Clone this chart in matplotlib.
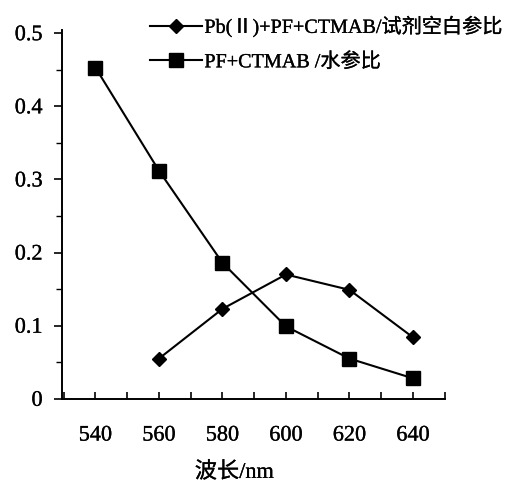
import matplotlib.pyplot as plt
import matplotlib.patheffects as pe
from matplotlib.ticker import MultipleLocator, FixedLocator

# Data
wavelength_pb = [560, 580, 600, 620, 640]
absorb_pb = [0.055, 0.123, 0.170, 0.149, 0.084]

wavelength_pf = [540, 560, 580, 600, 620, 640]
absorb_pf = [0.453, 0.312, 0.186, 0.099, 0.055, 0.028]

label_pb = "Pb(Ⅱ)+PF+CTMAB/试剂空白参比"
label_pf = "PF+CTMAB /水参比"
xticks = [540, 560, 580, 600, 620, 640]
yticks = [0, 0.1, 0.2, 0.3, 0.4, 0.5]
ytick_labels = ["0", "0.1", "0.2", "0.3", "0.4", "0.5"]

plt.rcParams["font.family"] = ["Liberation Serif", "Noto Sans CJK SC", "DejaVu Sans"]
# scanned print looks a little heavier than a plain serif
heavy = [pe.withStroke(linewidth=0.2, foreground="black")]

fig = plt.figure(figsize=(5.13, 4.84), dpi=100)
ax = fig.add_axes([0.121, 0.176, 0.746, 0.763])

ax.plot(wavelength_pb, absorb_pb, color="black", lw=1.5, marker="D",
        markersize=7.5, label=label_pb, clip_on=False)
ax.plot(wavelength_pf, absorb_pf, color="black", lw=1.5, marker="s",
        markersize=10, label=label_pf, clip_on=False)

ax.set_xlim(529.5, 650)
ax.set_ylim(0, 0.505)

ax.spines["top"].set_visible(False)
ax.spines["right"].set_visible(False)
ax.spines["left"].set_linewidth(1.4)
ax.spines["bottom"].set_linewidth(1.4)

ax.set_xticks(xticks)
ax.xaxis.set_minor_locator(FixedLocator([530, 550, 570, 590, 610, 630, 650]))
ax.tick_params(axis="x", which="both", direction="in", length=5, width=1.2,
               pad=20, labelsize=16)
ax.set_yticks(yticks)
ax.set_yticklabels(ytick_labels)
ax.yaxis.set_minor_locator(MultipleLocator(0.05))
ax.tick_params(axis="y", which="major", direction="out", length=6, width=1.2,
               pad=8, labelsize=16)
ax.tick_params(axis="y", which="minor", direction="out", length=4, width=1.0)

for t in ax.get_xticklabels() + ax.get_yticklabels():
    t.set_path_effects(heavy)

xl = ax.set_xlabel("波长/nm", fontsize=16, labelpad=12)
xl.set_position((0.45, 0))
xl.set_path_effects(heavy)

leg = ax.legend(loc="upper left", bbox_to_anchor=(150 / 513, 1 - 16 / 484),
                bbox_transform=fig.transFigure, frameon=False, fontsize=14.5,
                handlelength=2.6, handletextpad=0.1, labelspacing=0.75,
                borderpad=0, borderaxespad=0)
for t in leg.get_texts():
    t.set_path_effects(heavy)

plt.savefig("out.png", dpi=100)
